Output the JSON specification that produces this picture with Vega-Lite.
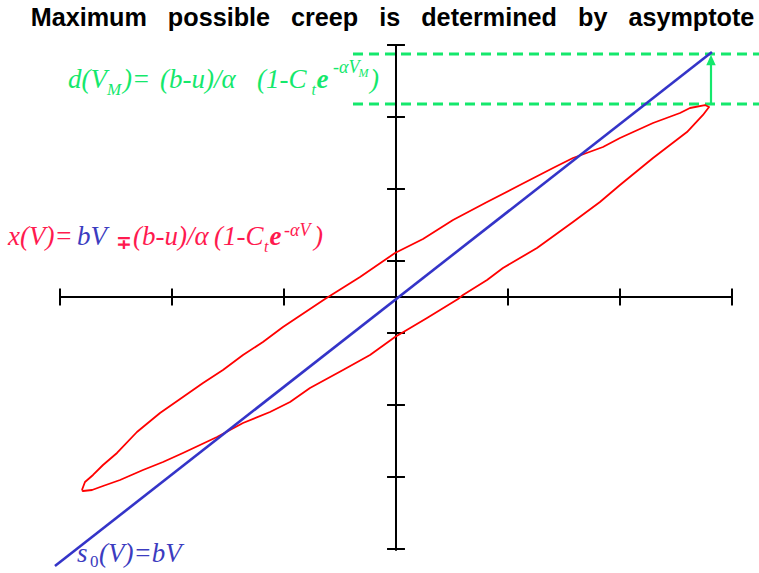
{
  "$schema": "https://vega.github.io/schema/vega-lite/v6.json",
  "width": 759,
  "height": 573,
  "autosize": {"type": "none"},
  "padding": 0,
  "background": "white",
  "config": {"view": {"stroke": null}},
  "datasets": {
    "loop": [
      {"k": 0, "v": -2.804, "s": -5.361},
      {"k": 1, "v": -2.777, "s": -5.139},
      {"k": 2, "v": -2.705, "s": -4.944},
      {"k": 3, "v": -2.616, "s": -4.667},
      {"k": 4, "v": -2.491, "s": -4.333},
      {"k": 5, "v": -2.313, "s": -3.75},
      {"k": 6, "v": -2.107, "s": -3.222},
      {"k": 7, "v": -1.902, "s": -2.778},
      {"k": 8, "v": -1.723, "s": -2.389},
      {"k": 9, "v": -1.545, "s": -2.028},
      {"k": 10, "v": -1.366, "s": -1.611},
      {"k": 11, "v": -1.188, "s": -1.25},
      {"k": 12, "v": -1.009, "s": -0.833},
      {"k": 13, "v": -0.634, "s": -0.056},
      {"k": 14, "v": -0.321, "s": 0.556},
      {"k": 15, "v": -0.009, "s": 1.222},
      {"k": 16, "v": 0.241, "s": 1.611},
      {"k": 17, "v": 0.509, "s": 2.139},
      {"k": 18, "v": 0.813, "s": 2.639},
      {"k": 19, "v": 1.107, "s": 3.111},
      {"k": 20, "v": 1.402, "s": 3.583},
      {"k": 21, "v": 1.58, "s": 3.861},
      {"k": 22, "v": 1.848, "s": 4.167},
      {"k": 23, "v": 2.0, "s": 4.417},
      {"k": 24, "v": 2.295, "s": 4.833},
      {"k": 25, "v": 2.536, "s": 5.111},
      {"k": 26, "v": 2.625, "s": 5.25},
      {"k": 27, "v": 2.759, "s": 5.333},
      {"k": 28, "v": 2.795, "s": 5.278},
      {"k": 29, "v": 2.741, "s": 5.056},
      {"k": 30, "v": 2.598, "s": 4.583},
      {"k": 31, "v": 2.295, "s": 3.861},
      {"k": 32, "v": 2.0, "s": 3.111},
      {"k": 33, "v": 1.821, "s": 2.639},
      {"k": 34, "v": 1.58, "s": 2.083},
      {"k": 35, "v": 1.259, "s": 1.361},
      {"k": 36, "v": 0.955, "s": 0.806},
      {"k": 37, "v": 0.813, "s": 0.472},
      {"k": 38, "v": 0.598, "s": 0.056},
      {"k": 39, "v": 0.554, "s": -0.056},
      {"k": 40, "v": 0.277, "s": -0.583},
      {"k": 41, "v": -0.009, "s": -1.111},
      {"k": 42, "v": -0.232, "s": -1.611},
      {"k": 43, "v": -0.473, "s": -2.028},
      {"k": 44, "v": -0.768, "s": -2.528},
      {"k": 45, "v": -0.946, "s": -2.917},
      {"k": 46, "v": -1.125, "s": -3.194},
      {"k": 47, "v": -1.366, "s": -3.5},
      {"k": 48, "v": -1.598, "s": -3.889},
      {"k": 49, "v": -1.75, "s": -4.111},
      {"k": 50, "v": -1.902, "s": -4.333},
      {"k": 51, "v": -2.08, "s": -4.583},
      {"k": 52, "v": -2.259, "s": -4.806},
      {"k": 53, "v": -2.464, "s": -5.083},
      {"k": 54, "v": -2.616, "s": -5.25},
      {"k": 55, "v": -2.714, "s": -5.361},
      {"k": 56, "v": -2.795, "s": -5.389},
      {"k": 57, "v": -2.804, "s": -5.361}
    ],
    "asymptote": [
      {"v": -3.045, "s": -7.472},
      {"v": 2.821, "s": 6.806}
    ],
    "levels": [
      {"name": "asymptote at V_M", "s": 6.75},
      {"name": "loop tip at V_M", "s": 5.361}
    ],
    "vticks": [{"s": -7}, {"s": -5}, {"s": -3}, {"s": -1}, {"s": 1}, {"s": 3}, {"s": 5}, {"s": 7}],
    "hticks": [{"v": -3}, {"v": -2}, {"v": -1}, {"v": 1}, {"v": 2}, {"v": 3}]
  },
  "layer": [
    {
      "data": {"name": "levels"},
      "mark": {"type": "rule", "color": "#14e86c", "strokeWidth": 3, "strokeDash": [10, 6]},
      "encoding": {
        "x": {"datum": -0.384, "type": "quantitative", "scale": {"domain": [-3.5357, 3.2411], "nice": false, "zero": false}, "axis": null},
        "x2": {"datum": 3.2411},
        "y": {"field": "s", "type": "quantitative", "scale": {"domain": [-7.6667, 8.25], "nice": false, "zero": false}, "axis": null}
      }
    },
    {
      "data": {"values": [{}]},
      "mark": {"type": "rule", "color": "black", "strokeWidth": 2},
      "encoding": {
        "x": {"datum": -3, "type": "quantitative", "scale": {"domain": [-3.5357, 3.2411], "nice": false, "zero": false}, "axis": null},
        "x2": {"datum": 3},
        "y": {"datum": 0, "type": "quantitative", "scale": {"domain": [-7.6667, 8.25], "nice": false, "zero": false}, "axis": null}
      }
    },
    {
      "data": {"values": [{}]},
      "mark": {"type": "rule", "color": "black", "strokeWidth": 2},
      "encoding": {
        "x": {"datum": 0, "type": "quantitative", "scale": {"domain": [-3.5357, 3.2411], "nice": false, "zero": false}, "axis": null},
        "y": {"datum": -7.05, "type": "quantitative", "scale": {"domain": [-7.6667, 8.25], "nice": false, "zero": false}, "axis": null},
        "y2": {"datum": 7.03}
      }
    },
    {
      "data": {"name": "vticks"},
      "mark": {"type": "rule", "color": "black", "strokeWidth": 2},
      "encoding": {
        "x": {"datum": -0.08, "type": "quantitative", "scale": {"domain": [-3.5357, 3.2411], "nice": false, "zero": false}, "axis": null},
        "x2": {"datum": 0.08},
        "y": {"field": "s", "type": "quantitative", "scale": {"domain": [-7.6667, 8.25], "nice": false, "zero": false}, "axis": null}
      }
    },
    {
      "data": {"name": "hticks"},
      "mark": {"type": "rule", "color": "black", "strokeWidth": 2},
      "encoding": {
        "x": {"field": "v", "type": "quantitative", "scale": {"domain": [-3.5357, 3.2411], "nice": false, "zero": false}, "axis": null},
        "y": {"datum": -0.236, "type": "quantitative", "scale": {"domain": [-7.6667, 8.25], "nice": false, "zero": false}, "axis": null},
        "y2": {"datum": 0.236}
      }
    },
    {
      "data": {"name": "loop"},
      "mark": {"type": "line", "color": "#ff0000", "strokeWidth": 1.8, "strokeJoin": "round"},
      "encoding": {
        "x": {"field": "v", "type": "quantitative", "scale": {"domain": [-3.5357, 3.2411], "nice": false, "zero": false}, "axis": null},
        "y": {"field": "s", "type": "quantitative", "scale": {"domain": [-7.6667, 8.25], "nice": false, "zero": false}, "axis": null},
        "order": {"field": "k", "type": "quantitative"}
      }
    },
    {
      "data": {"name": "asymptote"},
      "mark": {"type": "line", "color": "#3434c8", "strokeWidth": 2.6},
      "encoding": {
        "x": {"field": "v", "type": "quantitative", "scale": {"domain": [-3.5357, 3.2411], "nice": false, "zero": false}, "axis": null},
        "y": {"field": "s", "type": "quantitative", "scale": {"domain": [-7.6667, 8.25], "nice": false, "zero": false}, "axis": null}
      }
    },
    {
      "data": {"values": [{}]},
      "mark": {"type": "rule", "color": "#14e86c", "strokeWidth": 2.2},
      "encoding": {
        "x": {"datum": 2.8125, "type": "quantitative", "scale": {"domain": [-3.5357, 3.2411], "nice": false, "zero": false}, "axis": null},
        "y": {"datum": 5.361, "type": "quantitative", "scale": {"domain": [-7.6667, 8.25], "nice": false, "zero": false}, "axis": null},
        "y2": {"datum": 6.5}
      }
    },
    {
      "data": {"values": [{}]},
      "mark": {"type": "point", "shape": "M0,-1L0.9,1L-0.9,1Z", "filled": true, "color": "#14e86c", "size": 110, "opacity": 1},
      "encoding": {
        "x": {"datum": 2.8125, "type": "quantitative", "scale": {"domain": [-3.5357, 3.2411], "nice": false, "zero": false}, "axis": null},
        "y": {"datum": 6.583, "type": "quantitative", "scale": {"domain": [-7.6667, 8.25], "nice": false, "zero": false}, "axis": null}
      }
    },
    {
      "data": {"values": [{}]},
      "mark": {"type": "text", "text": "Maximum\u00a0\u00a0 possible\u00a0\u00a0 creep\u00a0\u00a0 is\u00a0\u00a0 determined\u00a0\u00a0 by\u00a0\u00a0 asymptote", "font": "Liberation Sans", "fontWeight": "bold", "fontSize": 25.2, "align": "center", "baseline": "alphabetic", "color": "black"},
      "encoding": {
        "x": {"datum": -0.031, "type": "quantitative", "scale": {"domain": [-3.5357, 3.2411], "nice": false, "zero": false}, "axis": null},
        "y": {"datum": 7.514, "type": "quantitative", "scale": {"domain": [-7.6667, 8.25], "nice": false, "zero": false}, "axis": null}
      }
    },
    {
      "data": {"values": [{}]},
      "mark": {"type": "text", "text": "x(V)=", "font": "Liberation Serif", "fontStyle": "italic", "fontSize": 27, "align": "left", "baseline": "alphabetic", "color": "#ff1a4f"},
      "encoding": {
        "x": {"datum": -3.464, "type": "quantitative", "scale": {"domain": [-3.5357, 3.2411], "nice": false, "zero": false}, "axis": null},
        "y": {"datum": 1.444, "type": "quantitative", "scale": {"domain": [-7.6667, 8.25], "nice": false, "zero": false}, "axis": null}
      }
    },
    {
      "data": {"values": [{}]},
      "mark": {"type": "text", "text": "bV", "font": "Liberation Serif", "fontStyle": "italic", "fontSize": 27, "align": "left", "baseline": "alphabetic", "color": "#3c3cc0"},
      "encoding": {
        "x": {"datum": -2.848, "type": "quantitative", "scale": {"domain": [-3.5357, 3.2411], "nice": false, "zero": false}, "axis": null},
        "y": {"datum": 1.444, "type": "quantitative", "scale": {"domain": [-7.6667, 8.25], "nice": false, "zero": false}, "axis": null}
      }
    },
    {
      "data": {"values": [{}]},
      "mark": {"type": "text", "text": "∓", "font": "DejaVu Sans", "fontWeight": "bold", "fontSize": 19, "align": "left", "baseline": "alphabetic", "color": "#ff1a4f"},
      "encoding": {
        "x": {"datum": -2.5, "type": "quantitative", "scale": {"domain": [-3.5357, 3.2411], "nice": false, "zero": false}, "axis": null},
        "y": {"datum": 1.33, "type": "quantitative", "scale": {"domain": [-7.6667, 8.25], "nice": false, "zero": false}, "axis": null}
      }
    },
    {
      "data": {"values": [{}]},
      "mark": {"type": "text", "text": "(b-u)/α", "font": "Liberation Serif", "fontStyle": "italic", "fontSize": 27, "align": "left", "baseline": "alphabetic", "color": "#ff1a4f"},
      "encoding": {
        "x": {"datum": -2.348, "type": "quantitative", "scale": {"domain": [-3.5357, 3.2411], "nice": false, "zero": false}, "axis": null},
        "y": {"datum": 1.444, "type": "quantitative", "scale": {"domain": [-7.6667, 8.25], "nice": false, "zero": false}, "axis": null}
      }
    },
    {
      "data": {"values": [{}]},
      "mark": {"type": "text", "text": "(1-C", "font": "Liberation Serif", "fontStyle": "italic", "fontSize": 27, "align": "left", "baseline": "alphabetic", "color": "#ff1a4f"},
      "encoding": {
        "x": {"datum": -1.625, "type": "quantitative", "scale": {"domain": [-3.5357, 3.2411], "nice": false, "zero": false}, "axis": null},
        "y": {"datum": 1.444, "type": "quantitative", "scale": {"domain": [-7.6667, 8.25], "nice": false, "zero": false}, "axis": null}
      }
    },
    {
      "data": {"values": [{}]},
      "mark": {"type": "text", "text": "t", "font": "Liberation Serif", "fontStyle": "italic", "fontSize": 16, "align": "left", "baseline": "alphabetic", "color": "#ff1a4f"},
      "encoding": {
        "x": {"datum": -1.178, "type": "quantitative", "scale": {"domain": [-3.5357, 3.2411], "nice": false, "zero": false}, "axis": null},
        "y": {"datum": 1.25, "type": "quantitative", "scale": {"domain": [-7.6667, 8.25], "nice": false, "zero": false}, "axis": null}
      }
    },
    {
      "data": {"values": [{}]},
      "mark": {"type": "text", "text": "e", "font": "Liberation Serif", "fontStyle": "italic", "fontWeight": "bold", "fontSize": 27, "align": "left", "baseline": "alphabetic", "color": "#ff1a4f"},
      "encoding": {
        "x": {"datum": -1.1295, "type": "quantitative", "scale": {"domain": [-3.5357, 3.2411], "nice": false, "zero": false}, "axis": null},
        "y": {"datum": 1.444, "type": "quantitative", "scale": {"domain": [-7.6667, 8.25], "nice": false, "zero": false}, "axis": null}
      }
    },
    {
      "data": {"values": [{}]},
      "mark": {"type": "text", "text": "-αV", "font": "Liberation Serif", "fontStyle": "italic", "fontSize": 18, "align": "left", "baseline": "alphabetic", "color": "#ff1a4f"},
      "encoding": {
        "x": {"datum": -1.0, "type": "quantitative", "scale": {"domain": [-3.5357, 3.2411], "nice": false, "zero": false}, "axis": null},
        "y": {"datum": 1.694, "type": "quantitative", "scale": {"domain": [-7.6667, 8.25], "nice": false, "zero": false}, "axis": null}
      }
    },
    {
      "data": {"values": [{}]},
      "mark": {"type": "text", "text": ")", "font": "Liberation Serif", "fontStyle": "italic", "fontSize": 27, "align": "left", "baseline": "alphabetic", "color": "#ff1a4f"},
      "encoding": {
        "x": {"datum": -0.732, "type": "quantitative", "scale": {"domain": [-3.5357, 3.2411], "nice": false, "zero": false}, "axis": null},
        "y": {"datum": 1.444, "type": "quantitative", "scale": {"domain": [-7.6667, 8.25], "nice": false, "zero": false}, "axis": null}
      }
    },
    {
      "data": {"values": [{}]},
      "mark": {"type": "text", "text": "d(V", "font": "Liberation Serif", "fontStyle": "italic", "fontSize": 27, "align": "left", "baseline": "alphabetic", "color": "#14e86c"},
      "encoding": {
        "x": {"datum": -2.929, "type": "quantitative", "scale": {"domain": [-3.5357, 3.2411], "nice": false, "zero": false}, "axis": null},
        "y": {"datum": 5.806, "type": "quantitative", "scale": {"domain": [-7.6667, 8.25], "nice": false, "zero": false}, "axis": null}
      }
    },
    {
      "data": {"values": [{}]},
      "mark": {"type": "text", "text": "M", "font": "Liberation Serif", "fontStyle": "italic", "fontSize": 17, "align": "left", "baseline": "alphabetic", "color": "#14e86c"},
      "encoding": {
        "x": {"datum": -2.58, "type": "quantitative", "scale": {"domain": [-3.5357, 3.2411], "nice": false, "zero": false}, "axis": null},
        "y": {"datum": 5.611, "type": "quantitative", "scale": {"domain": [-7.6667, 8.25], "nice": false, "zero": false}, "axis": null}
      }
    },
    {
      "data": {"values": [{}]},
      "mark": {"type": "text", "text": ")=", "font": "Liberation Serif", "fontStyle": "italic", "fontSize": 27, "align": "left", "baseline": "alphabetic", "color": "#14e86c"},
      "encoding": {
        "x": {"datum": -2.4375, "type": "quantitative", "scale": {"domain": [-3.5357, 3.2411], "nice": false, "zero": false}, "axis": null},
        "y": {"datum": 5.806, "type": "quantitative", "scale": {"domain": [-7.6667, 8.25], "nice": false, "zero": false}, "axis": null}
      }
    },
    {
      "data": {"values": [{}]},
      "mark": {"type": "text", "text": "(b-u)/α", "font": "Liberation Serif", "fontStyle": "italic", "fontSize": 27, "align": "left", "baseline": "alphabetic", "color": "#14e86c"},
      "encoding": {
        "x": {"datum": -2.107, "type": "quantitative", "scale": {"domain": [-3.5357, 3.2411], "nice": false, "zero": false}, "axis": null},
        "y": {"datum": 5.806, "type": "quantitative", "scale": {"domain": [-7.6667, 8.25], "nice": false, "zero": false}, "axis": null}
      }
    },
    {
      "data": {"values": [{}]},
      "mark": {"type": "text", "text": "(1-C", "font": "Liberation Serif", "fontStyle": "italic", "fontSize": 27, "align": "left", "baseline": "alphabetic", "color": "#14e86c"},
      "encoding": {
        "x": {"datum": -1.24, "type": "quantitative", "scale": {"domain": [-3.5357, 3.2411], "nice": false, "zero": false}, "axis": null},
        "y": {"datum": 5.806, "type": "quantitative", "scale": {"domain": [-7.6667, 8.25], "nice": false, "zero": false}, "axis": null}
      }
    },
    {
      "data": {"values": [{}]},
      "mark": {"type": "text", "text": "t", "font": "Liberation Serif", "fontStyle": "italic", "fontSize": 16, "align": "left", "baseline": "alphabetic", "color": "#14e86c"},
      "encoding": {
        "x": {"datum": -0.755, "type": "quantitative", "scale": {"domain": [-3.5357, 3.2411], "nice": false, "zero": false}, "axis": null},
        "y": {"datum": 5.611, "type": "quantitative", "scale": {"domain": [-7.6667, 8.25], "nice": false, "zero": false}, "axis": null}
      }
    },
    {
      "data": {"values": [{}]},
      "mark": {"type": "text", "text": "e", "font": "Liberation Serif", "fontStyle": "italic", "fontWeight": "bold", "fontSize": 27, "align": "left", "baseline": "alphabetic", "color": "#14e86c"},
      "encoding": {
        "x": {"datum": -0.71, "type": "quantitative", "scale": {"domain": [-3.5357, 3.2411], "nice": false, "zero": false}, "axis": null},
        "y": {"datum": 5.806, "type": "quantitative", "scale": {"domain": [-7.6667, 8.25], "nice": false, "zero": false}, "axis": null}
      }
    },
    {
      "data": {"values": [{}]},
      "mark": {"type": "text", "text": "-αV", "font": "Liberation Serif", "fontStyle": "italic", "fontSize": 18, "align": "left", "baseline": "alphabetic", "color": "#14e86c"},
      "encoding": {
        "x": {"datum": -0.5625, "type": "quantitative", "scale": {"domain": [-3.5357, 3.2411], "nice": false, "zero": false}, "axis": null},
        "y": {"datum": 6.222, "type": "quantitative", "scale": {"domain": [-7.6667, 8.25], "nice": false, "zero": false}, "axis": null}
      }
    },
    {
      "data": {"values": [{}]},
      "mark": {"type": "text", "text": "M", "font": "Liberation Serif", "fontStyle": "italic", "fontSize": 12, "align": "left", "baseline": "alphabetic", "color": "#14e86c"},
      "encoding": {
        "x": {"datum": -0.335, "type": "quantitative", "scale": {"domain": [-3.5357, 3.2411], "nice": false, "zero": false}, "axis": null},
        "y": {"datum": 6.111, "type": "quantitative", "scale": {"domain": [-7.6667, 8.25], "nice": false, "zero": false}, "axis": null}
      }
    },
    {
      "data": {"values": [{}]},
      "mark": {"type": "text", "text": ")", "font": "Liberation Serif", "fontStyle": "italic", "fontSize": 27, "align": "left", "baseline": "alphabetic", "color": "#14e86c"},
      "encoding": {
        "x": {"datum": -0.232, "type": "quantitative", "scale": {"domain": [-3.5357, 3.2411], "nice": false, "zero": false}, "axis": null},
        "y": {"datum": 5.806, "type": "quantitative", "scale": {"domain": [-7.6667, 8.25], "nice": false, "zero": false}, "axis": null}
      }
    },
    {
      "data": {"values": [{}]},
      "mark": {"type": "text", "text": "s", "font": "Liberation Serif", "fontStyle": "italic", "fontSize": 27, "align": "left", "baseline": "alphabetic", "color": "#3c3cc0"},
      "encoding": {
        "x": {"datum": -2.848, "type": "quantitative", "scale": {"domain": [-3.5357, 3.2411], "nice": false, "zero": false}, "axis": null},
        "y": {"datum": -7.361, "type": "quantitative", "scale": {"domain": [-7.6667, 8.25], "nice": false, "zero": false}, "axis": null}
      }
    },
    {
      "data": {"values": [{}]},
      "mark": {"type": "text", "text": "0", "font": "Liberation Serif", "fontSize": 17, "align": "left", "baseline": "alphabetic", "color": "#3c3cc0"},
      "encoding": {
        "x": {"datum": -2.732, "type": "quantitative", "scale": {"domain": [-3.5357, 3.2411], "nice": false, "zero": false}, "axis": null},
        "y": {"datum": -7.5, "type": "quantitative", "scale": {"domain": [-7.6667, 8.25], "nice": false, "zero": false}, "axis": null}
      }
    },
    {
      "data": {"values": [{}]},
      "mark": {"type": "text", "text": "(V)=bV", "font": "Liberation Serif", "fontStyle": "italic", "fontSize": 27, "align": "left", "baseline": "alphabetic", "color": "#3c3cc0"},
      "encoding": {
        "x": {"datum": -2.652, "type": "quantitative", "scale": {"domain": [-3.5357, 3.2411], "nice": false, "zero": false}, "axis": null},
        "y": {"datum": -7.361, "type": "quantitative", "scale": {"domain": [-7.6667, 8.25], "nice": false, "zero": false}, "axis": null}
      }
    }
  ]
}
